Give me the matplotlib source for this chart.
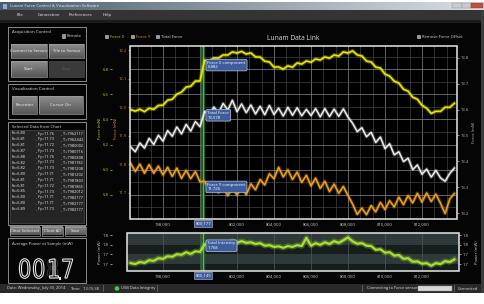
import numpy as np
import matplotlib.pyplot as plt
from matplotlib.patches import Rectangle, PathPatch, Circle
from matplotlib.textpath import TextPath
from matplotlib.font_manager import FontProperties
from matplotlib.transforms import Affine2D
from matplotlib.colors import LinearSegmentedColormap
from matplotlib.ticker import FixedLocator, MultipleLocator, FuncFormatter

plt.rcParams['font.family'] = ['Open Sans', 'DejaVu Sans']

W, H = 485, 304

# ---- data ----
samples = np.arange(796250, 813751, 250)   # sample index on the x axis

force_x = [6.478, 6.466, 6.481, 6.462, 6.489, 6.480, 6.511, 6.513, 6.553, 6.560,
           6.601, 6.617, 6.657, 6.664, 6.705, 6.706,
           6.871, 6.864, 6.889, 6.888,
           6.913, 6.912, 6.937, 6.928, 6.941, 6.920, 6.929, 6.897, 6.896, 6.863,
           6.857, 6.816, 6.817, 6.800, 6.826, 6.815, 6.849, 6.840, 6.865, 6.855,
           6.881, 6.872, 6.897, 6.887, 6.913, 6.904, 6.937, 6.928, 6.945, 6.913,
           6.905, 6.864, 6.857, 6.816, 6.809, 6.760, 6.745, 6.704, 6.689, 6.640,
           6.625, 6.576, 6.561, 6.512, 6.489, 6.448, 6.465, 6.464, 6.497, 6.496,
           6.528]

force_y = [11.804, 11.775, 11.801, 11.769, 11.799, 11.769, 11.794, 11.763, 11.790, 11.758,
           11.787, 11.751, 11.779, 11.750, 11.775, 11.739,
           11.741, 11.713, 11.734, 11.701,
           11.726, 11.690, 11.720, 11.692, 11.724, 11.694, 11.732, 11.711, 11.747, 11.728,
           11.767, 11.750, 11.790, 11.756, 11.781, 11.747, 11.773, 11.737, 11.762, 11.725,
           11.752, 11.716, 11.741, 11.705, 11.731, 11.699, 11.723, 11.691, 11.661, 11.625,
           11.647, 11.624, 11.656, 11.634, 11.667, 11.642, 11.673, 11.651, 11.685, 11.659,
           11.691, 11.665, 11.699, 11.668, 11.700, 11.670, 11.696, 11.664, 11.628, 11.679,
           11.698]

total_force = [13.456, 13.437, 13.471, 13.451, 13.489, 13.465, 13.501, 13.478, 13.519, 13.497,
               13.533, 13.506, 13.543, 13.517, 13.554, 13.534,
               13.593, 13.579, 13.610, 13.586,
               13.624, 13.598, 13.636, 13.592, 13.622, 13.588, 13.618, 13.583, 13.613, 13.580,
               13.616, 13.581, 13.606, 13.575, 13.609, 13.578, 13.607, 13.576, 13.601, 13.577,
               13.604, 13.572, 13.604, 13.573, 13.602, 13.574, 13.603, 13.571, 13.547, 13.515,
               13.530, 13.495, 13.512, 13.473, 13.494, 13.449, 13.468, 13.425, 13.437, 13.399,
               13.412, 13.368, 13.386, 13.350, 13.370, 13.339, 13.365, 13.336, 13.323, 13.353,
               13.374]

power = [1.703, 1.700, 1.707, 1.704, 1.713, 1.711, 1.720, 1.718, 1.727, 1.725,
         1.734, 1.732, 1.741, 1.735, 1.744, 1.742,
         1.768, 1.766, 1.772, 1.770,
         1.775, 1.769, 1.779, 1.773, 1.779, 1.773, 1.775, 1.769, 1.772, 1.763,
         1.765, 1.759, 1.761, 1.756, 1.762, 1.759, 1.765, 1.762, 1.790, 1.763,
         1.772, 1.766, 1.775, 1.769, 1.779, 1.773, 1.782, 1.792, 1.778, 1.770,
         1.772, 1.763, 1.762, 1.749, 1.751, 1.739, 1.741, 1.729, 1.731, 1.718,
         1.720, 1.708, 1.709, 1.701, 1.703, 1.694, 1.703, 1.700, 1.710, 1.707,
         1.716]

cursor = 800177
cursor_label_top = '800,177'
cursor_label_bottom = '800,145'
x_ticks = [798000, 800000, 802000, 804000, 806000, 808000, 810000, 812000]
fx_ticks = [5.8, 6.0, 6.2, 6.4, 6.6, 6.8]
fy_ticks = [11.7, 11.8, 11.9, 12.0, 12.1, 12.2]
ft_ticks = [13.2, 13.3, 13.4, 13.5, 13.6, 13.7, 13.8]
pw_ticks = [1.70, 1.7333, 1.7667, 1.80]

readouts = [('Force X component', '6.882'), ('Total Force', '13.578'),
            ('Force Y component', '11.726'), ('Total Intensity', '1.768')]

sel_fx = ['6.80', '6.81', '6.81', '6.87', '6.88', '6.82', '6.82', '6.80', '6.81', '6.81',
          '6.85', '6.80', '6.80', '6.89']
sel_fy = ['11.76', '11.73', '11.72', '11.73', '11.76', '11.73', '11.73', '11.71', '11.71',
          '11.72', '11.73', '11.71', '11.71', '11.73']
sel_t = ['7962117', '7962442', '7980002', '7980716', '7980808', '7981182', '7981208',
         '7981202', '7981803', '7981865', '7982012', '7982177', '7982177', '7982177']

YEL, ORA, WHT, GRN = '#e8e800', '#f0a020', '#f2f2f2', '#a6e22e'
BLUE = '#3e5d9c'


def box(x0, y0, x1, y1):
    return [x0 / W, 1 - y1 / H, (x1 - x0) / W, (y1 - y0) / H]


fig = plt.figure(figsize=(W / 100, H / 100), dpi=100, facecolor='white')

# ---- window chrome / left panel ----
ui = fig.add_axes([0, 0, 1, 1])
ui.axis('off')


def rect(x0, y0, x1, y1, fc, ec='none', lw=0.6, z=1):
    ui.add_patch(Rectangle((x0, y0), x1 - x0, y1 - y0, facecolor=fc, edgecolor=ec, lw=lw, zorder=z))


def label(x, y, s, size=3.2, color='#dddddd', ha='left', z=4, **kw):
    ui.text(x, y, s, fontsize=size, color=color, ha=ha, va='center', zorder=z, **kw)


def gradient(x0, y0, x1, y1, c_top, c_bot, horizontal=False, z=2):
    cm = LinearSegmentedColormap.from_list('g', [c_top, c_bot])
    g = np.linspace(0, 1, 32)
    g = g[None, :] if horizontal else g[:, None]
    ui.imshow(g, cmap=cm, extent=(x0, x1, y1, y0), aspect='auto', zorder=z,
              interpolation='bilinear')


def button(x0, y0, x1, y1, s, enabled=True):
    if enabled:
        gradient(x0, y0, x1, y1, '#8c8c8c', '#575757')
        rect(x0, y0, x1, y1, 'none', '#a0a0a0', 0.5, z=3)
        label((x0 + x1) / 2, (y0 + y1) / 2, s, color='#f4f4f4', ha='center')
    else:
        rect(x0, y0, x1, y1, '#3a3a3a', '#4a4a4a', 0.5, z=3)
        label((x0 + x1) / 2, (y0 + y1) / 2, s, color='#5a5a5a', ha='center')


def checkbox(x, y, s, color):
    rect(x, y - 1.6, x + 3.2, y + 1.6, '#9a9a9a', '#cfcfcf', 0.4, z=3)
    label(x + 5, y, s, size=3.0, color=color)


# window background
rect(0, 2, 481, 293, '#050505', z=0)
rect(481, 10, 485, 293, '#3c3c3c', z=0)
# title bar
gradient(0, 2, 485, 10, '#4c5c6d', '#d9dee3', horizontal=True)
rect(3, 3.5, 7.5, 8.5, '#8fb0d0', z=3)
label(10, 6, 'Lunam Force Control & Visualization Software', size=3.0, color='#eeeeee')
rect(452, 2.5, 462, 8, '#c8ccd0', '#8a8a8a', 0.3, z=3)
rect(462, 2.5, 471, 8, '#c8ccd0', '#8a8a8a', 0.3, z=3)
rect(471, 2.5, 483, 8, '#c64a3e', '#8a3a30', 0.3, z=3)
# menu bar
rect(0, 10, 481, 20, '#343434', z=1)
rect(0, 20, 481, 23, '#1c1c1c', z=1)
for x, s in [(17, 'File'), (38, 'Connection'), (69, 'Preferences'), (103, 'Help')]:
    label(x, 15.3, s, size=3.1, color='#f0f0f0')

# acquisition control
rect(8, 27, 86, 81, '#050505', '#8c8c8c', 0.7)
label(12, 31.5, 'Acquisition Control', size=3.2)
checkbox(62, 36, 'Remote', '#dddddd')
button(11, 44, 47, 58, 'Connect to Sensor')
button(49, 44, 84, 58, 'Tile to Sensor')
button(11, 61, 47, 77, 'Start')
button(49, 61, 84, 77, 'Stop', enabled=False)

# visualization control
rect(8, 84, 86, 119, '#050505', '#8c8c8c', 0.7)
label(12, 89, 'Visualization Control', size=3.2)
button(12, 96, 37, 114, 'Recenter')
button(39, 96, 83, 114, 'Cursor On')

# selected data list
rect(8, 122, 86, 225, '#050505', '#8c8c8c', 0.7)
label(12, 126.5, 'Selected Data from Chart', size=3.0)
rect(10, 130, 84, 223, '#242424', '#5a5a5a', 0.4)
for i, (a, b, c) in enumerate(zip(sel_fx, sel_fy, sel_t)):
    yy = 133.5 + i * 5.8
    label(12, yy, 'Fx=' + a, size=2.8, color='#f0f0f0')
    label(36, yy, ', Fy=' + b, size=2.8, color='#f0f0f0')
    label(61, yy, ', T=' + c, size=2.8, color='#f0f0f0')

button(10, 227, 40, 235.5, 'Clear Selected')
button(42, 227, 63, 235.5, 'Clear All')
button(65, 227, 86, 235.5, 'Save')

# average power display
rect(8, 238, 86, 283, '#050505', '#8c8c8c', 0.7)
label(12, 243.5, 'Average Power at Sample (mW)', size=3.0)
fp = FontProperties(family='DejaVu Sans')


def digit(ch, x, color, lw=0.8):
    tp = TextPath((0, 0), ch, size=1, prop=fp)
    tr = Affine2D().scale(21, -26).translate(x, 278)
    ui.add_patch(PathPatch(tr.transform_path(tp), facecolor='none', edgecolor=color, lw=lw, zorder=4))


digit('8', 46, '#303030')
digit('0', 18, '#e6e6e6')
digit('0', 32, '#e6e6e6')
digit('1', 47, '#e6e6e6')
digit('7', 61, '#e6e6e6')
rect(59.5, 277, 61, 279.5, '#e6e6e6', z=4)

# status bar
rect(0, 284, 481, 293, '#2a2a2a', z=1)
for xs in [103, 157, 362, 454]:
    rect(xs, 285, xs + 0.6, 292, '#5a5a5a', z=2)
label(7, 288.5, 'Date: Wednesday, July 30, 2014', size=2.9, color='#e0e0e0')
label(70, 288.5, 'Time:   13:15:38', size=2.9, color='#e0e0e0')
ui.add_patch(Circle((117, 288.5), 1.6, color='#3ad13a', zorder=3))
label(121, 288.5, 'USB Data Integrity', size=2.9, color='#e0e0e0')
label(367, 288.5, 'Connecting to Force sensor', size=2.9, color='#e0e0e0')
rect(418, 286, 452, 291, '#d6d6d6', '#9a9a9a', 0.3, z=2)
label(458, 288.5, 'Connected', size=2.9, color='#e0e0e0')

# chart header
checkbox(105, 36.5, 'Force X', '#d8d800')
checkbox(131, 36.5, 'Force Y', '#e09a30')
checkbox(156, 36.5, 'Total Force', '#e8e8e8')
label(293, 38.5, 'Lunam Data Link', size=4.8, color='#e0e0e0', ha='center')
checkbox(417, 36.5, 'Remove Force Offset', '#dddddd')

# axis titles
label(100, 128, 'Force (mN)', size=3.0, color='#d8d800', ha='center', rotation=90)
label(116.5, 128, 'Force (mN)', size=3.0, color='#e09a30', ha='center', rotation=90)
label(474.5, 132, 'Force (mN)', size=3.0, color='#bbbbbb', ha='center', rotation=90)
label(100.5, 252, 'Power (mW)', size=3.0, color='#cccccc', ha='center', rotation=90)
label(477.5, 252, 'Power (mW)', size=3.0, color='#cccccc', ha='center', rotation=90)

ui.set_xlim(0, W)
ui.set_ylim(H, 0)
rect(0, 293, 485, 304, 'white', z=5)

xfmt = FuncFormatter(lambda v, p: '' if abs(v - 800000) < 1 else f'{v:,.0f}')


def style_y(a, side, color, ticks, fmt, outward=0):
    a.set_yticks(ticks)
    a.yaxis.set_major_formatter(FuncFormatter(lambda v, p: fmt.format(v)))
    if side == 'left':
        a.yaxis.tick_left()
    else:
        a.yaxis.tick_right()
    a.spines[side].set_position(('outward', outward))
    a.tick_params(axis='y', which='major', colors=color, labelsize=3.0, length=1.5,
                  width=0.5, pad=0.8)
    a.tick_params(axis='y', which='minor', length=0)
    for s in a.spines.values():
        s.set_visible(False)


def trace(a, values, color, lw):
    # soft halo under the jagged trace, like the noisy band on screen
    a.plot(samples, values, color=color, lw=lw * 2.4, alpha=0.3, solid_joinstyle='round')
    a.plot(samples, values, color=color, lw=lw)


def tag(a, text, y, dy):
    a.annotate(text, xy=(cursor, y), xytext=(3, dy), textcoords='offset points',
               ha='left', va='center', fontsize=3.1, color='white', zorder=10,
               bbox=dict(boxstyle='round,pad=0.35', fc=BLUE, ec='#b8c6e0', lw=0.5))


def cursor_tag(a, text):
    a.annotate(text, xy=(cursor, 0), xycoords=('data', 'axes fraction'), xytext=(0, -1.6),
               textcoords='offset points', ha='center', va='top', fontsize=3.1,
               color='white', annotation_clip=False, zorder=10,
               bbox=dict(boxstyle='square,pad=0.3', fc=BLUE, ec='#b8c6e0', lw=0.4))


# ---- main chart ----
ax = fig.add_axes(box(130, 46, 457, 219))
ax.set_facecolor('black')
ax.set_xlim(796216, 813892)
ax.set_ylim(5.608, 6.984)
ax.xaxis.set_major_locator(FixedLocator(x_ticks))
ax.xaxis.set_minor_locator(MultipleLocator(2000 / 3))
ax.xaxis.set_major_formatter(xfmt)
ax.yaxis.set_minor_locator(MultipleLocator(0.1))
ax.grid(which='major', color='#8a8a8a', lw=0.5)
ax.grid(which='minor', color='#474747', lw=0.45)
ax.tick_params(axis='x', which='both', colors='#cccccc', labelsize=3.1, length=0, pad=2.2)
style_y(ax, 'left', '#d0d000', fx_ticks, '{:.1f}', outward=13)
ax.axvline(cursor, color='#2d6a2d', lw=3.2, alpha=0.85)
ax.axvline(cursor, color='#7ad07a', lw=0.5)
trace(ax, force_x, YEL, 1.2)

axy = ax.twinx()
axy.set_ylim(11.609, 12.214)
style_y(axy, 'left', '#d08a1e', fy_ticks, '{:.1f}')
trace(axy, force_y, ORA, 1.1)

axt = ax.twinx()
axt.set_ylim(13.177, 13.846)
style_y(axt, 'right', '#bbbbbb', ft_ticks, '{:.1f}')
trace(axt, total_force, WHT, 1.0)
axt.add_patch(Rectangle((0, 0), 1, 1, transform=axt.transAxes, fill=False,
                        ec='#e8e8e8', lw=1.1, clip_on=False, zorder=6))

tag(ax, '\n'.join(readouts[0]), float(readouts[0][1]), -4.5)
tag(axt, '\n'.join(readouts[1]), float(readouts[1][1]), 0)
tag(axy, '\n'.join(readouts[2]), float(readouts[2][1]), -1)
cursor_tag(axt, cursor_label_top)

# ---- intensity chart ----
axp = fig.add_axes(box(127, 233, 459, 271))
axp.set_facecolor('#161d1d')
axp.set_xlim(796054, 814000)
axp.set_ylim(1.676, 1.807)
axp.axhspan(pw_ticks[2], 1.807, color='#2f3939', lw=0)
axp.axhspan(pw_ticks[0], pw_ticks[1], color='#2f3939', lw=0)
axp.xaxis.set_major_locator(FixedLocator(x_ticks))
axp.xaxis.set_major_formatter(xfmt)
axp.grid(axis='x', color='#4e5a5a', lw=0.5)
axp.tick_params(axis='x', colors='#cccccc', labelsize=3.1, length=0, pad=2.2)
style_y(axp, 'left', '#cccccc', pw_ticks, '{:.1f}', outward=11)
axp.axvline(cursor, color='#2d6a2d', lw=3.2, alpha=0.85)
axp.axvline(cursor, color='#7ad07a', lw=0.5)
trace(axp, power, GRN, 1.6)

axp2 = axp.twinx()
axp2.set_ylim(1.676, 1.807)
style_y(axp2, 'right', '#cccccc', pw_ticks, '{:.1f}')
axp2.add_patch(Rectangle((0, 0), 1, 1, transform=axp2.transAxes, fill=False,
                         ec='#e8e8e8', lw=1.1, clip_on=False, zorder=6))
tag(axp2, '\n'.join(readouts[3]), float(readouts[3][1]), -1)
cursor_tag(axp2, cursor_label_bottom)

fig.savefig('out.png', dpi=100, facecolor='white')
